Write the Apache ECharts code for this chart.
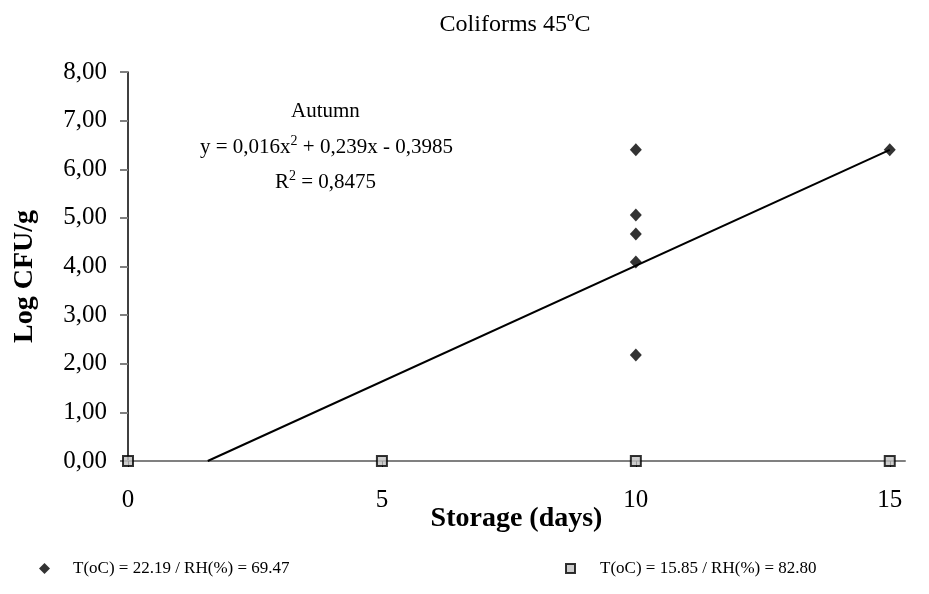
<!DOCTYPE html>
<html>
<head>
<meta charset="utf-8">
<script src="https://cdn.jsdelivr.net/npm/echarts@6/dist/echarts.min.js"></script>
<style>html,body{margin:0;padding:0;background:#fff}#c{width:929px;height:594px}</style>
</head>
<body>
<div id="c"></div>
<script>
var xTicks = [0, 5, 10, 15];
var yTicks = [0, 1, 2, 3, 4, 5, 6, 7, 8];
var autumnX = [10, 10, 10, 10, 10, 15];
var autumnY = [6.40, 5.06, 4.67, 4.09, 2.18, 6.40];
var springX = [0, 5, 10, 15];
var springY = [0, 0, 0, 0];
var trendX = [1.57, 15];
var trendY = [0, 6.40];
var seriesNames = ['T(oC) = 22.19 / RH(%) = 69.47', 'T(oC) = 15.85 / RH(%) = 82.80'];

var FONT = '"Liberation Serif", "Times New Roman", serif';
function pairs(xs, ys){ return xs.map(function(x,i){ return [x, ys[i]]; }); }

var chart = echarts.init(document.getElementById('c'));
chart.setOption({
  animation: false,
  backgroundColor: '#fff',
  textStyle: { fontFamily: FONT, color: '#000' },
  title: {
    text: 'Coliforms 45ºC',
    left: 510, top: 8, textAlign: 'center',
    textStyle: { fontFamily: FONT, fontSize: 24, fontWeight: 'normal', color: '#000' }
  },
  grid: { left: 128, right: 24, top: 72, bottom: 133, containLabel: false },
  xAxis: {
    type: 'value', min: 0, max: 15.3, interval: 5,
    name: 'Storage (days)', nameLocation: 'middle', nameGap: 44, nameMoveOverlap: false,
    nameTextStyle: { fontFamily: FONT, fontSize: 28, fontWeight: 'bold', color: '#000' },
    axisLine: { onZero: true, lineStyle: { color: '#808080', width: 2 } },
    axisTick: { show: true, inside: false, length: 6, lineStyle: { color: '#000', width: 1 } },
    splitLine: { show: false },
    axisLabel: {
      fontFamily: FONT, fontSize: 25, color: '#000', margin: 27,
      showMaxLabel: false,
      formatter: function(v){ return xTicks.indexOf(v) >= 0 ? String(v) : ''; }
    }
  },
  yAxis: {
    type: 'value', min: 0, max: 8, interval: 1,
    name: 'Log CFU/g', nameLocation: 'middle', nameGap: 89, nameMoveOverlap: false,
    nameTextStyle: { fontFamily: FONT, fontSize: 28, fontWeight: 'bold', color: '#000', padding: [0, 20, 0, 0] },
    axisLine: { show: true, lineStyle: { color: '#000', width: 1.5 } },
    axisTick: { show: true, length: 8, lineStyle: { color: '#808080', width: 2 } },
    splitLine: { show: false },
    axisLabel: {
      fontFamily: FONT, fontSize: 25, color: '#000', margin: 21,
      formatter: function(v){ return yTicks.indexOf(v) >= 0 ? v.toFixed(2).replace('.', ',') : ''; }
    }
  },
  legend: [
    {
      left: 34, top: 555, itemWidth: 11, itemHeight: 11,
      data: [{ name: seriesNames[0], icon: 'diamond' }],
      textStyle: { fontFamily: FONT, fontSize: 17, color: '#000', padding: [0, 0, 0, 18] }
    },
    {
      left: 560, top: 555, itemWidth: 9, itemHeight: 9,
      data: [{ name: seriesNames[1], icon: 'rect' }],
      textStyle: { fontFamily: FONT, fontSize: 17, color: '#000', padding: [0, 0, 0, 20] }
    }
  ],
  graphic: [
    { type: 'text', left: 291, top: 101, style: { text: 'Autumn', font: '21px ' + FONT, fill: '#000' } },
    { type: 'text', left: 200, top: 134, style: {
        text: '{b|y = 0,016x}{s|2}{b| + 0,239x - 0,3985}',
        rich: { b: { font: '21px ' + FONT, fill: '#000', verticalAlign: 'bottom' },
                s: { font: '14px ' + FONT, fill: '#000', verticalAlign: 'top', padding: [0, 0, 10, 0] } }
    } },
    { type: 'text', left: 275, top: 169, style: {
        text: '{b|R}{s|2}{b| = 0,8475}',
        rich: { b: { font: '21px ' + FONT, fill: '#000', verticalAlign: 'bottom' },
                s: { font: '14px ' + FONT, fill: '#000', verticalAlign: 'top', padding: [0, 0, 10, 0] } }
    } }
  ],
  series: [
    {
      name: 'trend', type: 'line', data: pairs(trendX, trendY),
      showSymbol: false, symbol: 'none', lineStyle: { color: '#000', width: 2 }, z: 2, silent: true
    },
    {
      name: seriesNames[1], type: 'scatter', data: pairs(springX, springY),
      symbol: 'rect', symbolSize: 10,
      itemStyle: { color: '#c0c0c0', borderColor: '#000', borderWidth: 2 }, z: 4
    },
    {
      name: seriesNames[0], type: 'scatter', data: pairs(autumnX, autumnY),
      symbol: 'diamond', symbolSize: [12, 13],
      itemStyle: { color: '#000' }, z: 5
    }
  ]
});
</script>
</body>
</html>
